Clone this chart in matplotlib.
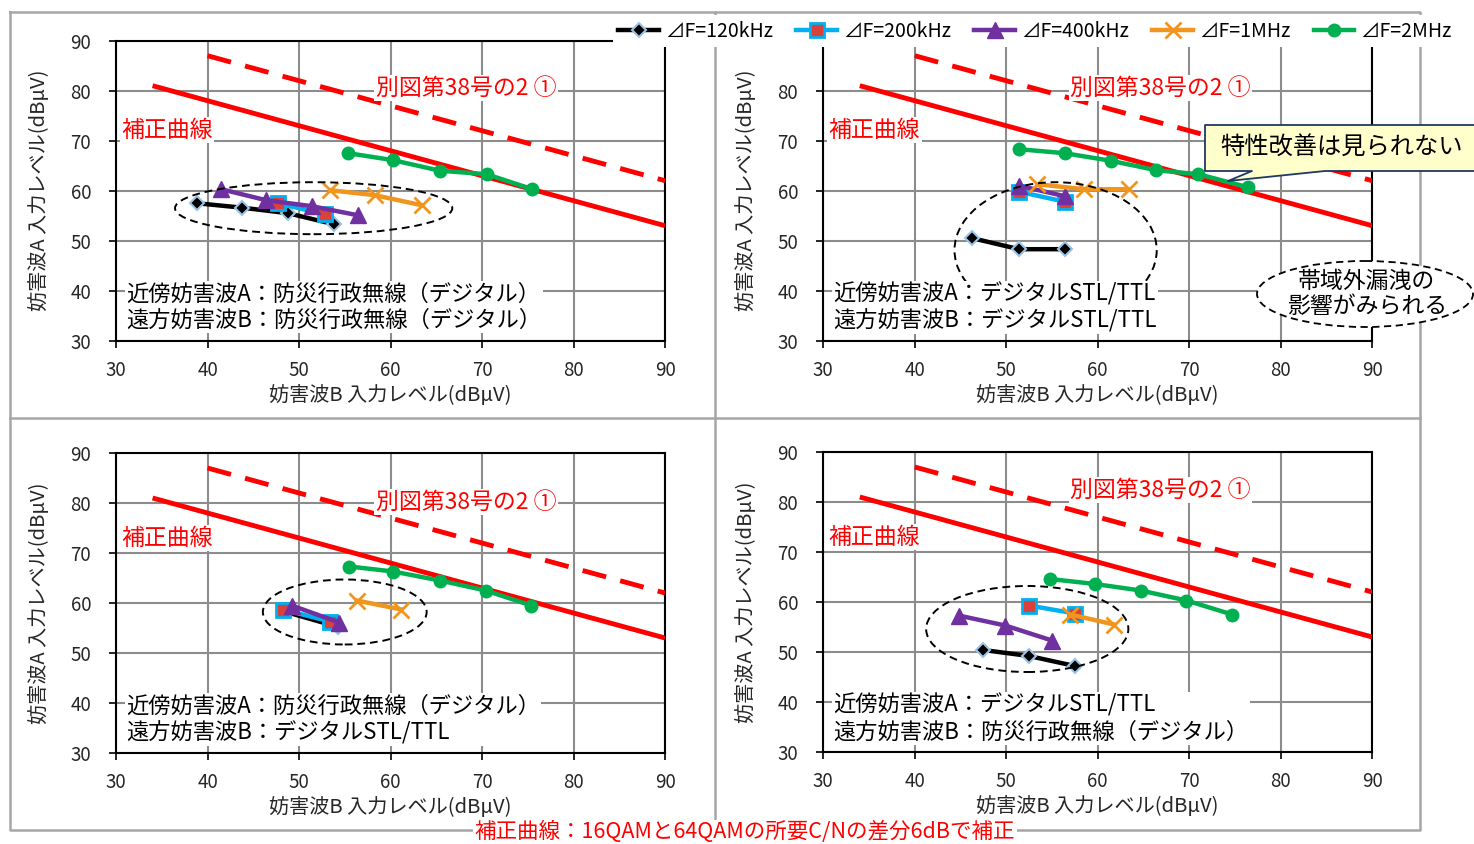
import numpy as np
import matplotlib
matplotlib.use("Agg")
import matplotlib.pyplot as plt
from matplotlib.patches import Ellipse, Polygon

plt.rcParams['font.family'] = ['Noto Sans CJK JP', 'DejaVu Sans']

W, H = 1474, 844

# legend labels
series_names = ['⊿F=120kHz', '⊿F=200kHz', '⊿F=400kHz', '⊿F=1MHz', '⊿F=2MHz']

# reference lines (dBuV)
corr_x = [34, 90]
corr_y = [81, 53]
std_x = [40, 90]
std_y = [87, 62]

# top-left panel
tl_120_x = [38.8, 43.8, 48.8, 53.8]
tl_120_y = [57.5, 56.6, 55.5, 53.3]
tl_200_x = [47.7, 52.8]
tl_200_y = [57.5, 55.3]
tl_400_x = [41.5, 46.4, 51.4, 56.4]
tl_400_y = [60.3, 58.1, 56.9, 55.1]
tl_1m_x = [53.4, 58.3, 63.4]
tl_1m_y = [60.1, 59.1, 57.1]
tl_2m_x = [55.4, 60.3, 65.4, 70.5, 75.5]
tl_2m_y = [67.5, 66.1, 64.0, 63.3, 60.3]

# top-right panel
tr_120_x = [46.3, 51.4, 56.4]
tr_120_y = [50.5, 48.3, 48.3]
tr_200_x = [51.4, 56.4]
tr_200_y = [59.8, 57.8]
tr_400_x = [51.4, 56.4]
tr_400_y = [61.0, 58.9]
tr_1m_x = [53.4, 58.5, 63.4]
tr_1m_y = [61.3, 60.3, 60.3]
tr_2m_x = [51.4, 56.4, 61.4, 66.4, 71.0, 76.4]
tr_2m_y = [68.3, 67.5, 66.0, 64.1, 63.3, 60.7]

# bottom-left panel
bl_120_x = [48.2, 54.3]
bl_120_y = [58.4, 55.2]
bl_200_x = [48.2, 53.4]
bl_200_y = [58.7, 56.3]
bl_400_x = [49.2, 54.4]
bl_400_y = [59.5, 56.1]
bl_1m_x = [56.3, 61.2]
bl_1m_y = [60.5, 58.7]
bl_2m_x = [55.5, 60.3, 65.4, 70.4, 75.4]
bl_2m_y = [67.3, 66.3, 64.5, 62.5, 59.5]

# bottom-right panel
br_120_x = [47.5, 52.5, 57.5]
br_120_y = [50.4, 49.2, 47.2]
br_200_x = [52.5, 57.5]
br_200_y = [59.3, 57.7]
br_400_x = [44.8, 49.9, 55.0]
br_400_y = [57.3, 55.3, 52.3]
br_1m_x = [57.0, 61.8]
br_1m_y = [57.5, 55.5]
br_2m_x = [54.8, 59.7, 64.7, 69.7, 74.7]
br_2m_y = [64.6, 63.6, 62.3, 60.3, 57.5]

ticks = [30, 40, 50, 60, 70, 80, 90]

texts = [
    '近傍妨害波A：防災行政無線（デジタル）\n遠方妨害波B：防災行政無線（デジタル）',
    '近傍妨害波A：デジタルSTL/TTL\n遠方妨害波B：デジタルSTL/TTL',
    '近傍妨害波A：防災行政無線（デジタル）\n遠方妨害波B：デジタルSTL/TTL',
    '近傍妨害波A：デジタルSTL/TTL\n遠方妨害波B：防災行政無線（デジタル）',
]

styles = [
    dict(color='black', marker='D', ms=7, mfc='black', mec='#9DC3E6', mew=1.5),
    dict(color='#00B0F0', marker='s', ms=10, mfc='#D9413A', mec='#00B0F0', mew=2),
    dict(color='#7030A0', marker='^', ms=11, mfc='#7030A0', mec='#7030A0'),
    dict(color='#F0961E', marker='x', ms=12, mew=2),
    dict(color='#00B050', marker='o', ms=9, mfc='#00B050', mec='#00B050'),
]

panels = [
    dict(box=(116, 40.7), data=[(tl_120_x, tl_120_y), (tl_200_x, tl_200_y), (tl_400_x, tl_400_y),
                                (tl_1m_x, tl_1m_y), (tl_2m_x, tl_2m_y)],
         ell=(51.6, 56.5, 30.3, 10.4), ref_y=80.5, ref_x=58.4, corr_lab_y=72.1),
    dict(box=(823.2, 40.7), data=[(tr_120_x, tr_120_y), (tr_200_x, tr_200_y), (tr_400_x, tr_400_y),
                                  (tr_1m_x, tr_1m_y), (tr_2m_x, tr_2m_y)],
         ell=(55.4, 48.1, 22.1, 27.2), ref_y=80.5, ref_x=57.0, corr_lab_y=72.1),
    dict(box=(116, 453), data=[(bl_120_x, bl_120_y), (bl_200_x, bl_200_y), (bl_400_x, bl_400_y),
                               (bl_1m_x, bl_1m_y), (bl_2m_x, bl_2m_y)],
         ell=(55.0, 58.2, 17.9, 13.0), ref_y=80.2, ref_x=58.4, corr_lab_y=73.0),
    dict(box=(823.2, 452), data=[(br_120_x, br_120_y), (br_200_x, br_200_y), (br_400_x, br_400_y),
                                 (br_1m_x, br_1m_y), (br_2m_x, br_2m_y)],
         ell=(52.3, 54.6, 22.1, 17.2), ref_y=82.4, ref_x=57.0, corr_lab_y=73.0),
]

fig = plt.figure(figsize=(W / 100, H / 100), dpi=100)

# outer gray frames (pixel coordinates)
bg = fig.add_axes([0, 0, 1, 1], zorder=-5)
bg.set_xlim(0, W)
bg.set_ylim(H, 0)
bg.axis('off')
frame_c = '#A6A6A6'
bg.plot([10, 1420, 1420, 10, 10], [12, 12, 830, 830, 12], color=frame_c, lw=1.8)
bg.plot([715, 715], [12, 830], color=frame_c, lw=1.8)
bg.plot([10, 1420], [418, 418], color=frame_c, lw=1.8)

axes = []
for i, p in enumerate(panels):
    left, top = p['box']
    ax = fig.add_axes([left / W, 1 - (top + 300) / H, 549 / W, 300 / H])
    axes.append(ax)
    ax.set_xlim(30, 90)
    ax.set_ylim(30, 90)
    ax.set_xticks(ticks)
    ax.set_yticks(ticks)
    if i == 1:
        ax.set_yticklabels([str(t) if t < 90 else '' for t in ticks])
    ax.grid(True, color='#8C8C8C', lw=1.5)
    ax.set_axisbelow(True)
    for s in ax.spines.values():
        s.set_color('black')
        s.set_linewidth(1.5)
    ax.tick_params(direction='out', length=5, width=1.2, labelsize=13.5,
                   labelcolor='#262626', pad=9)
    ax.tick_params(axis='y', pad=13)

    ax.plot(corr_x, corr_y, color='#FF0000', lw=3.5, zorder=3, solid_capstyle='butt')
    ax.plot(std_x, std_y, color='#FF0000', lw=3.5, ls=(0, (5, 3)), zorder=3)

    for (xs, ys), st, name in zip(p['data'], styles, series_names):
        ax.plot(xs, ys, lw=3.2, label=name, zorder=4, **st)

    cx, cy, ew, eh = p['ell']
    ax.add_patch(Ellipse((cx, cy), ew, eh, fill=False, ec='black', lw=1.4,
                         ls=(0, (4, 2.5)), zorder=5))

    ax.text(p['ref_x'], p['ref_y'], '別図第38号の2 ①', color='#FF0000', fontsize=16.5,
            va='center', ha='left', zorder=6,
            bbox=dict(fc='white', ec='none', pad=1))
    ax.text(30.6, p['corr_lab_y'], '補正曲線', color='#FF0000', fontsize=16.5,
            va='center', ha='left', zorder=6,
            bbox=dict(fc='white', ec='none', pad=1))
    ax.text(31.1, 36.7, texts[i], color='black', fontsize=16, va='center', ha='left',
            linespacing=1.2, zorder=6, bbox=dict(fc='white', ec='none', pad=1))

    ax.set_xlabel('妨害波B 入力レベル(dBμV)', fontsize=14.5, color='#262626')
    ax.set_ylabel('妨害波A 入力レベル(dBμV)', fontsize=14.5, color='#262626')
    ax.xaxis.set_label_coords(0.5, -0.148)
    ax.yaxis.set_label_coords(-0.12, 0.5)

# overlay in pixel coordinates for the call-outs
ov = fig.add_axes([0, 0, 1, 1], zorder=20)
ov.set_xlim(0, W)
ov.set_ylim(H, 0)
ov.axis('off')
ov.patch.set_alpha(0)

callout = [(1480, 171), (1325, 171), (1228, 181), (1252, 171), (1205, 171),
           (1205, 125), (1480, 125)]
ov.add_patch(Polygon(callout, closed=True, fc='#FFFFCC', ec='none'))
ov.plot([c[0] for c in callout], [c[1] for c in callout], color='#1F3864', lw=1.3)
ov.text(1220, 148, '特性改善は見られない', fontsize=17.5, ha='left', va='center')

ov.add_patch(Ellipse((1365, 294), 216, 66, fc='white', ec='black', lw=1.3,
                     ls=(0, (4, 2.5))))
ov.text(1367, 294, '帯域外漏洩の\n影響がみられる', fontsize=16.5, ha='center', va='center',
        linespacing=1.1)

handles, labels = axes[0].get_legend_handles_labels()
fig.legend(handles, labels, loc='center', bbox_to_anchor=(1035 / W, 1 - 31 / H), ncol=5,
           frameon=True, facecolor='white', edgecolor='none', framealpha=1, fontsize=14,
           handlelength=2.1, handletextpad=0.3, columnspacing=1.2, borderpad=0.3)

fig.text(745 / W, 1 - 832 / H, '補正曲線：16QAMと64QAMの所要C/Nの差分6dBで補正',
         color='#FF0000', fontsize=15.5, ha='center', va='center',
         bbox=dict(fc='white', ec='none', pad=1))

fig.savefig('out.png', dpi=100)
